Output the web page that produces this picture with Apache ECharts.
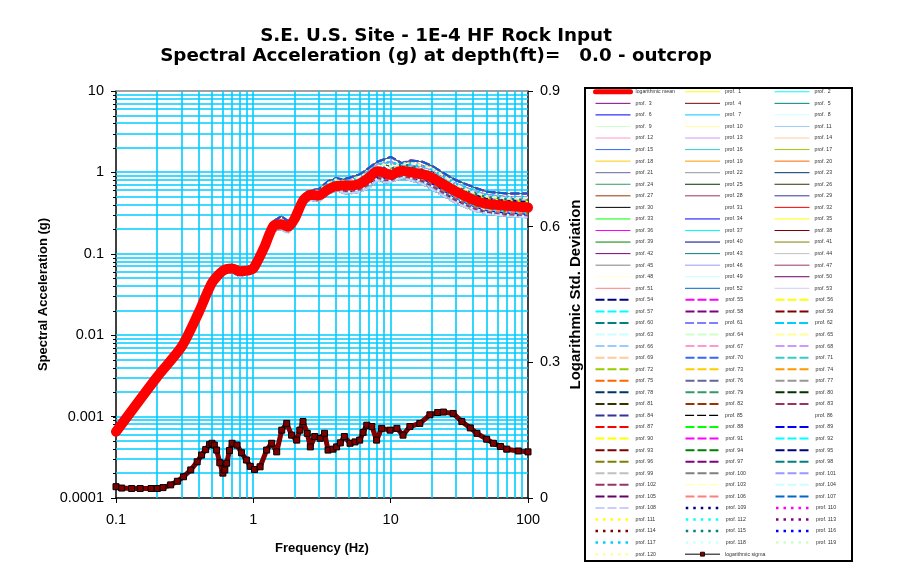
<!DOCTYPE html>
<html><head><meta charset="utf-8">
<script src="https://cdn.jsdelivr.net/npm/echarts@6/dist/echarts.min.js"></script>
<style>html,body{margin:0;padding:0;background:#fff}#c{width:910px;height:583px}</style>
</head><body><div id="c"></div>
<script>
// ---------- data ----------
const titleLine1 = 'S.E. U.S. Site - 1E-4 HF Rock Input';
const titleLine2 = 'Spectral Acceleration (g) at depth(ft)=   0.0 - outcrop';
const xTickLabels = ['0.1', '1', '10', '100'];
const yTickLabels = ['0.0001', '0.001', '0.01', '0.1', '1', '10'];
const y2TickLabels = ['0', '0.3', '0.6', '0.9'];

// frequencies (Hz)
const freq = [0.1,0.2,0.3,0.4,0.5,0.6,0.7,0.8,0.9,1.0,1.2,1.4,1.6,1.8,2.0,2.3,2.6,3.0,3.5,4.0,4.5,5.0,6.0,7.0,8.0,9.0,10,12,14,17,20,25,30,40,50,70,100];
// logarithmic mean spectral acceleration (g)
const meanSA = [0.00065,0.0031,0.0072,0.019,0.044,0.062,0.066,0.061,0.062,0.066,0.12,0.22,0.23,0.215,0.27,0.45,0.53,0.52,0.62,0.68,0.69,0.69,0.73,0.87,1.03,0.99,0.93,1.05,1.0,0.95,0.86,0.69,0.58,0.46,0.41,0.39,0.37];

// individual profile spectra (representative shapes)
const profA = [0.00065,0.0031,0.0072,0.019,0.048,0.066,0.072,0.068,0.068,0.072,0.13,0.25,0.29,0.25,0.31,0.50,0.60,0.62,0.78,0.85,0.82,0.86,0.95,1.15,1.35,1.45,1.55,1.30,1.40,1.35,1.20,0.95,0.80,0.66,0.58,0.55,0.55];
const profB = [0.00065,0.0031,0.0072,0.019,0.042,0.057,0.060,0.052,0.056,0.062,0.105,0.19,0.20,0.18,0.23,0.40,0.46,0.44,0.55,0.60,0.56,0.55,0.58,0.65,0.80,0.75,0.76,0.85,0.80,0.72,0.62,0.50,0.42,0.34,0.31,0.29,0.28];
const profC = [0.00065,0.0031,0.0072,0.019,0.046,0.063,0.068,0.064,0.060,0.068,0.12,0.23,0.24,0.23,0.28,0.47,0.56,0.50,0.70,0.74,0.66,0.72,0.80,0.95,1.10,1.05,0.98,1.15,1.10,1.02,0.95,0.76,0.62,0.50,0.45,0.42,0.41];
const profD = [0.00065,0.0031,0.0072,0.019,0.044,0.060,0.064,0.058,0.064,0.066,0.11,0.21,0.21,0.20,0.25,0.42,0.50,0.55,0.60,0.66,0.72,0.64,0.70,0.82,0.92,0.90,0.88,1.00,0.98,0.88,0.80,0.62,0.50,0.41,0.37,0.34,0.33];
const profE = [0.00065,0.0031,0.0072,0.019,0.046,0.064,0.070,0.062,0.058,0.068,0.125,0.23,0.25,0.23,0.29,0.46,0.52,0.58,0.66,0.78,0.70,0.74,0.72,0.98,1.15,0.95,1.05,1.20,1.12,1.05,1.00,0.78,0.65,0.54,0.48,0.45,0.44];
const profF = [0.00065,0.0031,0.0072,0.019,0.043,0.059,0.062,0.060,0.066,0.064,0.11,0.20,0.22,0.21,0.25,0.43,0.49,0.47,0.62,0.63,0.67,0.62,0.66,0.80,0.90,0.86,0.82,0.92,0.90,0.85,0.78,0.60,0.49,0.40,0.36,0.33,0.32];
const profG = [0.00065,0.0031,0.0072,0.019,0.047,0.065,0.068,0.063,0.063,0.069,0.12,0.22,0.25,0.22,0.27,0.45,0.55,0.53,0.68,0.72,0.74,0.70,0.78,0.90,1.08,1.12,1.00,1.10,1.15,1.00,0.90,0.72,0.58,0.48,0.43,0.40,0.39];
const profH = [0.00065,0.0031,0.0072,0.019,0.045,0.061,0.065,0.060,0.061,0.066,0.115,0.22,0.23,0.22,0.26,0.44,0.51,0.56,0.60,0.70,0.64,0.68,0.70,0.85,0.96,0.92,0.90,1.02,0.95,0.86,0.76,0.62,0.53,0.44,0.40,0.36,0.35];
const profI = [0.00065,0.0031,0.0072,0.019,0.045,0.062,0.067,0.061,0.060,0.067,0.12,0.22,0.24,0.24,0.28,0.46,0.54,0.49,0.66,0.68,0.75,0.70,0.80,0.92,1.05,0.98,1.10,1.25,1.20,1.08,0.98,0.78,0.66,0.55,0.50,0.47,0.46];
const profJ = [0.00065,0.0031,0.0072,0.019,0.044,0.060,0.064,0.062,0.062,0.067,0.115,0.21,0.22,0.21,0.26,0.42,0.52,0.51,0.60,0.68,0.62,0.66,0.64,0.80,0.88,0.86,0.82,0.96,0.92,0.80,0.72,0.56,0.46,0.37,0.33,0.31,0.30];
const profK = [0.00065,0.0031,0.0072,0.019,0.045,0.063,0.066,0.060,0.063,0.068,0.118,0.22,0.26,0.22,0.27,0.46,0.58,0.56,0.72,0.80,0.76,0.80,0.86,1.05,1.25,1.30,1.35,1.20,1.25,1.18,1.08,0.86,0.72,0.60,0.53,0.50,0.50];
const profL = [0.00065,0.0031,0.0072,0.019,0.043,0.058,0.063,0.057,0.059,0.065,0.11,0.20,0.21,0.19,0.24,0.41,0.48,0.46,0.58,0.62,0.60,0.58,0.62,0.72,0.86,0.80,0.80,0.90,0.86,0.78,0.68,0.54,0.45,0.36,0.32,0.30,0.29];
const profM = [0.00065,0.0031,0.0072,0.019,0.046,0.064,0.069,0.062,0.061,0.070,0.125,0.23,0.26,0.23,0.28,0.47,0.57,0.60,0.74,0.82,0.78,0.76,0.90,1.00,1.20,1.25,1.18,1.28,1.30,1.22,1.12,0.88,0.70,0.57,0.51,0.48,0.48];
const profN = [0.00065,0.0031,0.0072,0.019,0.044,0.061,0.065,0.061,0.062,0.066,0.112,0.21,0.22,0.21,0.26,0.44,0.53,0.52,0.63,0.70,0.68,0.66,0.72,0.84,1.00,0.96,0.92,1.04,1.00,0.92,0.84,0.66,0.55,0.45,0.40,0.37,0.36];
const profO = [0.00065,0.0031,0.0072,0.019,0.045,0.062,0.066,0.059,0.063,0.067,0.118,0.22,0.24,0.22,0.27,0.45,0.54,0.58,0.66,0.74,0.72,0.70,0.74,0.90,1.12,1.08,0.96,1.12,1.06,0.98,0.90,0.70,0.58,0.47,0.42,0.39,0.38];
const profP = [0.00065,0.0031,0.0072,0.019,0.044,0.060,0.064,0.061,0.061,0.066,0.11,0.21,0.23,0.20,0.25,0.43,0.50,0.50,0.64,0.66,0.62,0.64,0.68,0.78,0.94,0.88,0.86,0.94,0.92,0.84,0.76,0.60,0.50,0.41,0.36,0.33,0.32];

// logarithmic standard deviation (right axis)
const sigmaFreq = [0.1,0.11,0.13,0.15,0.18,0.2,0.22,0.25,0.28,0.31,0.35,0.39,0.42,0.45,0.48,0.5,0.52,0.54,0.57,0.6,0.62,0.64,0.67,0.7,0.76,0.82,0.89,0.95,1.02,1.12,1.25,1.36,1.48,1.61,1.75,1.9,2.07,2.18,2.3,2.47,2.6,2.8,3.07,3.3,3.5,3.8,4.04,4.3,4.6,5.06,5.5,5.95,6.3,6.7,7.3,7.9,8.6,9.9,11.1,12.3,13.8,16.3,19.3,22,24.2,28.5,33,38,42.5,50,56,63,70,85,100];
const sigmaVal  = [0.025,0.022,0.021,0.021,0.021,0.021,0.023,0.029,0.037,0.047,0.062,0.080,0.095,0.107,0.118,0.121,0.117,0.106,0.078,0.055,0.062,0.077,0.105,0.121,0.117,0.100,0.084,0.070,0.063,0.069,0.106,0.121,0.102,0.150,0.165,0.139,0.128,0.150,0.169,0.143,0.113,0.136,0.132,0.143,0.106,0.108,0.113,0.122,0.136,0.121,0.124,0.128,0.145,0.161,0.158,0.128,0.154,0.150,0.154,0.139,0.158,0.165,0.184,0.189,0.190,0.187,0.169,0.155,0.143,0.130,0.121,0.114,0.108,0.104,0.102];

// Excel-style line palette used for prof. 1 .. prof. 120 (cycles every 55)
const profColors = ['#FFFF00','#00FFFF','#800080','#800000','#008080','#0000FF','#00CCFF','#CCFFFF','#CCFFCC','#FFFF99','#99CCFF','#FF99CC','#CC99FF','#FFCC99','#3366FF','#33CCCC','#99CC00','#FFCC00','#FF9900','#FF6600','#666699','#969696','#003366','#339966','#003300','#333300','#993300','#993366','#333399','#000000','#FFFFFF','#FF0000','#00FF00','#0000FF','#FFFF00','#FF00FF','#00FFFF','#800000','#008000','#000080','#808000','#800080','#008080','#C0C0C0','#808080','#9999FF','#993366','#FFFFCC','#CCFFFF','#660066','#FF8080','#0066CC','#CCCCFF','#000080','#FF00FF'];

// ---------- build ----------
const profSets = [profA, profB, profC, profD, profE, profF, profG, profH, profI, profJ, profK, profL, profM, profN, profO, profP];
const profName = i => (i < 10 ? 'prof.  ' : 'prof. ') + i;

// grid line positions (2..9 per decade, Excel log-axis minor grid)
const hLines = [], vLines = [];
for (let e = -4; e <= 0; e++) for (let k = 1; k <= 9; k++) { if (!(e === -4 && k === 1)) hLines.push([0.1, k * Math.pow(10, e)]); }
hLines.push([0.1, 10]);
for (let e = -1; e <= 1; e++) for (let k = 1; k <= 9; k++) { if (!(e === -1 && k === 1)) vLines.push([k * Math.pow(10, e), 0.0001]); }

const gridSeries = (name, lines, horizontal) => ({
  type: 'custom', name: name, data: lines, silent: true, z: 1.9, animation: false, clip: false,
  renderItem: function (params, api) {
    const cs = params.coordSys;
    const p = api.coord([api.value(0), api.value(1)]);
    if (horizontal) {
      const y = Math.round(p[1]);
      const top = Math.abs(api.value(1) - 10) < 1e-9;
      return { type: 'group', children: [
        { type: 'line', shape: { x1: cs.x, y1: y, x2: cs.x + cs.width, y2: y }, style: { stroke: top ? '#808080' : '#00CCFF', lineWidth: 1.6 } },
        { type: 'line', shape: { x1: cs.x - 3, y1: y + 0.5, x2: cs.x, y2: y + 0.5 }, style: { stroke: '#000', lineWidth: 1 } }
      ] };
    }
    const x = Math.round(p[0]);
    return { type: 'line', shape: { x1: x, y1: cs.y, x2: x, y2: cs.y + cs.height }, style: { stroke: '#00CCFF', lineWidth: 1.6 } };
  }
});

const series = [];
series.push(gridSeries('_gridH', hLines, true));
series.push(gridSeries('_gridV', vLines, false));

for (let i = 1; i <= 120; i++) {
  const vals = profSets[(i + 5) % 16];
  let ls;
  if (i <= 53) ls = { width: 1, type: 'solid' };
  else if (i <= 108) ls = { width: (i === 61 || i === 85) ? 1.2 : 2, type: [9, 3] };
  else ls = { width: 2.5, type: [2.5, 5] };
  ls.color = profColors[(i - 1) % 55];
  series.push({
    type: 'line', name: profName(i), z: 2, silent: true, animation: false,
    symbol: 'none', showSymbol: false,
    data: freq.map((f, j) => [f, vals[j]]),
    lineStyle: ls, itemStyle: { color: ls.color }
  });
}
series.push({
  type: 'line', name: 'logarithmic mean', z: 5, silent: true, animation: false,
  symbol: 'none', showSymbol: false, smooth: 0.25,
  data: freq.map((f, j) => [f, meanSA[j]]),
  lineStyle: { color: '#FF0000', width: 10, cap: 'round', join: 'round' },
  itemStyle: { color: '#FF0000' }
});
series.push({
  type: 'line', name: 'logarithmic sigma', yAxisIndex: 1, z: 6, silent: true, animation: false,
  symbol: 'rect', symbolSize: 6, showAllSymbol: true,
  data: sigmaFreq.map((f, j) => [f, sigmaVal[j]]),
  lineStyle: { color: '#800000', width: 5 },
  itemStyle: { color: '#800000', borderColor: '#000', borderWidth: 1 }
});

const legendData = [{ name: 'logarithmic mean', lineStyle: { width: 5, cap: 'round' } }];
for (let i = 1; i <= 120; i++) legendData.push({ name: profName(i) });
legendData.push({
  name: 'logarithmic sigma',
  itemStyle: { opacity: 1, color: '#800000', borderColor: '#000', borderWidth: 0.8 },
  lineStyle: { color: '#000', width: 1, type: 'solid' }
});

const fmt = v => String(+(+v).toPrecision(6));
const labelFont = { fontFamily: 'Liberation Sans, Arial', fontSize: 14.5, color: '#000' };
const nameFont = { fontFamily: 'Liberation Sans, Arial', fontWeight: 'bold', fontSize: 13, color: '#000' };
const noLines = { splitLine: { show: false }, minorTick: { show: false }, minorSplitLine: { show: false }, splitArea: { show: false } };

const option = {
  backgroundColor: '#fff',
  animation: false,
  title: {
    text: titleLine1 + '\n' + titleLine2,
    left: 436, top: 26, padding: 0, textAlign: 'center',
    textStyle: { fontFamily: 'DejaVu Sans', fontWeight: 'bold', fontSize: 18.3, lineHeight: 20, color: '#000' }
  },
  grid: { left: 116, top: 91, width: 412, height: 407, show: false },
  xAxis: Object.assign({
    type: 'log', logBase: 10, min: 0.1, max: 100,
    name: 'Frequency (Hz)', nameLocation: 'middle', nameGap: 44, nameTextStyle: nameFont,
    axisLine: { show: true, lineStyle: { color: '#000', width: 1.5 } },
    axisTick: { show: true, inside: false, length: 5, lineStyle: { color: '#000' } },
    axisLabel: Object.assign({ margin: 14, formatter: v => { const s = fmt(v); return xTickLabels.includes(s) ? s : ''; } }, labelFont)
  }, noLines),
  yAxis: [Object.assign({
    type: 'log', logBase: 10, min: 0.0001, max: 10,
    name: 'Spectral Acceleration (g)', nameLocation: 'middle', nameGap: 66, nameRotate: 90, nameTextStyle: nameFont,
    axisLine: { show: true, lineStyle: { color: '#000', width: 1.5 } },
    axisTick: { show: true, inside: false, length: 5, lineStyle: { color: '#000' } },
    axisLabel: Object.assign({ margin: 12, formatter: v => { const s = fmt(v); return yTickLabels.includes(s) ? s : ''; } }, labelFont)
  }, noLines), Object.assign({
    type: 'value', min: 0, max: 0.9, interval: 0.3, position: 'right',
    name: 'Logarithmic Std. Deviation', nameLocation: 'middle', nameGap: 40, nameRotate: 90,
    nameTextStyle: Object.assign({}, nameFont, { fontSize: 15 }),
    axisLine: { show: true, lineStyle: { color: '#000', width: 1.5 } },
    axisTick: { show: true, inside: false, length: 5, lineStyle: { color: '#000' } },
    axisLabel: Object.assign({ margin: 12, formatter: v => { const s = fmt(v); return y2TickLabels.includes(s) ? s : ''; } }, labelFont)
  }, noLines)],
  legend: {
    data: legendData, left: 593, top: 86, width: 300, padding: 0,
    itemGap: 0, itemWidth: 35, itemHeight: 5, selectedMode: false,
    itemStyle: { opacity: 0 },
    lineStyle: { width: 'inherit' },
    textStyle: { fontFamily: 'Liberation Sans, Arial', fontSize: 5.2, color: '#333', width: 49, lineHeight: 11.56, overflow: 'none' }
  },
  graphic: [{
    type: 'rect', left: 584, top: 87, z: -1,
    shape: { width: 267, height: 473 },
    style: { fill: '#fff', stroke: '#000', lineWidth: 2 }
  }],
  series: series
};

const chart = echarts.init(document.getElementById('c'), null, { renderer: 'canvas' });
chart.setOption(option);
</script>
</body></html>
